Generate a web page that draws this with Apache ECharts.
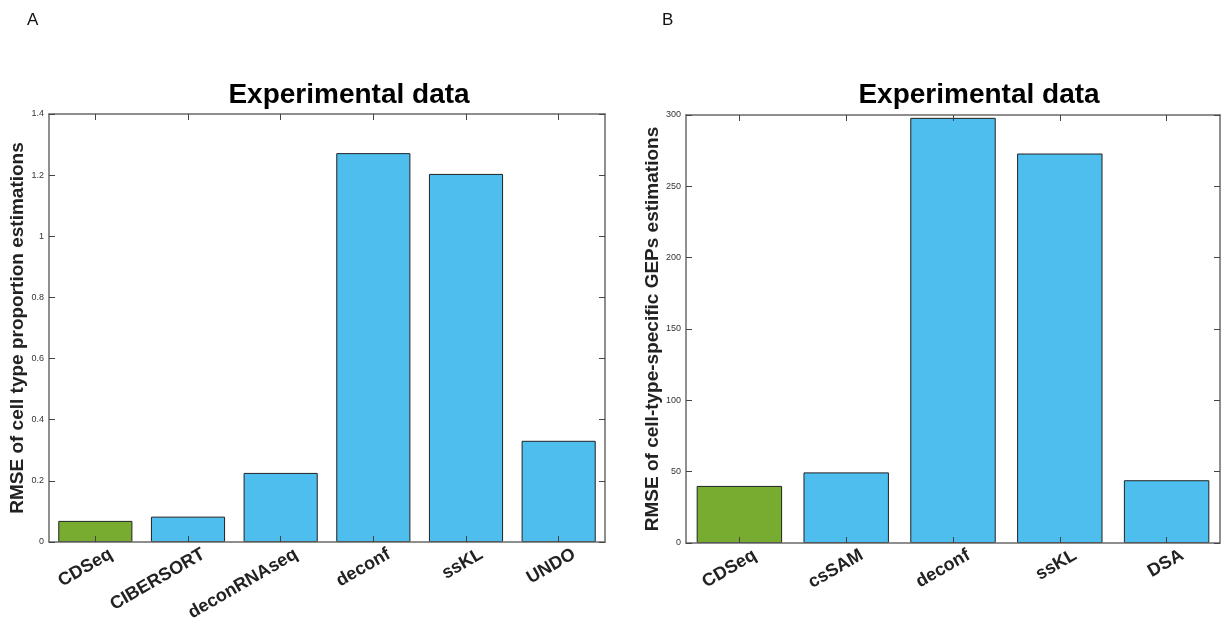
<!DOCTYPE html>
<html><head><meta charset="utf-8">
<script src="https://cdn.jsdelivr.net/npm/echarts@6/dist/echarts.min.js"></script>
<style>html,body{margin:0;padding:0;background:#fff}#c{width:1227px;height:619px}</style>
</head><body><div id="c"></div>
<script>
const catsA = ['CDSeq','CIBERSORT','deconRNAseq','deconf','ssKL','UNDO'];
const valsA = [0.069, 0.083, 0.226, 1.272, 1.204, 0.331];
const catsB = ['CDSeq','csSAM','deconf','ssKL','DSA'];
const valsB = [40, 49.5, 298, 273, 44];
const titleText = 'Experimental data';
const yNameA = 'RMSE of cell type proportion estimations';
const yNameB = 'RMSE of cell-type-specific GEPs estimations';

const GREEN = '#77AC30', BLUE = '#4DBEEE', AX = '#6a6a6a', TK = '#444';
function colored(vals){
  return vals.map((v,i)=>({value:v,itemStyle:{color:i===0?GREEN:BLUE}}));
}
const font = 'Liberation Sans, Arial, sans-serif';
function xAx(grid, cats, pos){
  const bottom = pos==='bottom';
  return {type:'category', gridIndex:grid, data:cats, position:pos, z:5,
    axisLine:{show:true,onZero:false,lineStyle:{color:AX,width:1.5}},
    axisTick:{show:true,inside:true,alignWithLabel:true,length:6,lineStyle:{color:TK}},
    axisLabel:{show:bottom,rotate:30,fontFamily:font,fontWeight:'bold',fontSize:18,color:'#222',
      margin:20,padding:[0,-18,0,0],interval:0},
    splitLine:{show:false}};
}
function yAx(grid, max, interval, pos, name){
  const left = pos==='left';
  return {type:'value', gridIndex:grid, min:0, max:max, interval:interval, position:pos, z:5,
    name: left?name:'', nameLocation:'middle', nameGap:14,
    nameTextStyle:{fontFamily:font,fontWeight:'bold',fontSize:19,color:'#222'},
    axisLine:{show:true,onZero:false,lineStyle:{color:AX,width:1.5}},
    axisTick:{show:true,inside:true,length:6,lineStyle:{color:TK}},
    axisLabel:{show:left,fontFamily:font,fontSize:9,color:'#333',margin:5},
    splitLine:{show:false}};
}
const chart = echarts.init(document.getElementById('c'));
chart.setOption({
  animation:false,
  backgroundColor:'#fff',
  title:[
    {text:titleText,left:344,top:76,textAlign:'center',textStyle:{fontFamily:font,fontWeight:'bold',fontSize:28,color:'#000'}},
    {text:titleText,left:974,top:76,textAlign:'center',textStyle:{fontFamily:font,fontWeight:'bold',fontSize:28,color:'#000'}},
    {text:'A',left:22,top:7,textStyle:{fontFamily:font,fontWeight:'normal',fontSize:17,color:'#111'}},
    {text:'B',left:657,top:7,textStyle:{fontFamily:font,fontWeight:'normal',fontSize:17,color:'#111'}}
  ],
  grid:[
    {left:49,top:114,width:556,height:428,outerBoundsMode:'none',containLabel:false},
    {left:686,top:115,width:534,height:428,outerBoundsMode:'none',containLabel:false}
  ],
  xAxis:[xAx(0,catsA,'bottom'),xAx(0,catsA,'top'),xAx(1,catsB,'bottom'),xAx(1,catsB,'top')],
  yAxis:[yAx(0,1.4,0.2,'left',yNameA),yAx(0,1.4,0.2,'right',''),yAx(1,300,50,'left',yNameB),yAx(1,300,50,'right','')],
  series:[
    {type:'bar',xAxisIndex:0,yAxisIndex:0,data:colored(valsA),barWidth:'80%',
     itemStyle:{borderColor:'#222',borderWidth:1}},
    {type:'bar',xAxisIndex:2,yAxisIndex:2,data:colored(valsB),barWidth:'80%',
     itemStyle:{borderColor:'#222',borderWidth:1}}
  ]
});
</script></body></html>
